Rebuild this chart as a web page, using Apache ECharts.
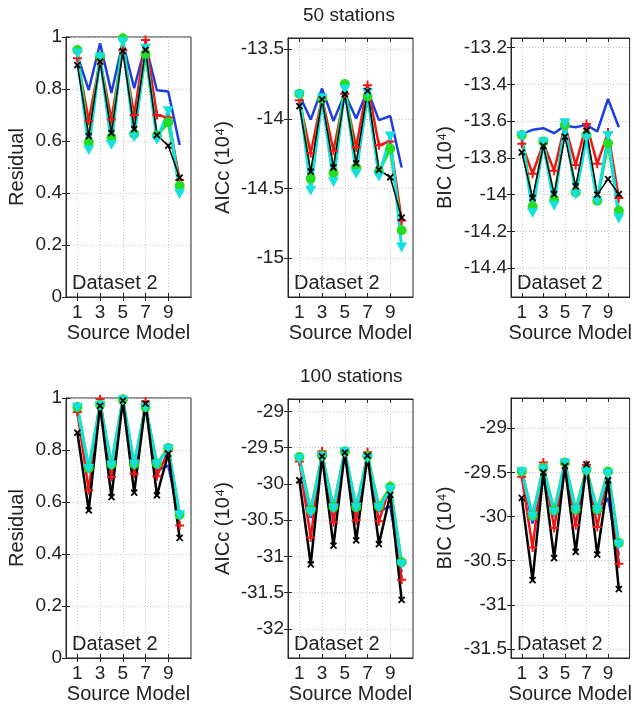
<!DOCTYPE html>
<html>
<head>
<meta charset="utf-8">
<script src="https://cdn.jsdelivr.net/npm/echarts@6/dist/echarts.min.js"></script>
<style>
  html, body { margin: 0; padding: 0; background: #fff; }
  #chart { width: 634px; height: 707px; }
</style>
</head>
<body>
<div id="chart"></div>
<script>
// source models on the x axis
const models = [1, 2, 3, 4, 5, 6, 7, 8, 9, 10];
const xTicks = [1, 3, 5, 7, 9];

// tick labels
const resTicks = [0, 0.2, 0.4, 0.6, 0.8, 1];
const aic50Ticks = [-15, -14.5, -14, -13.5];
const bic50Ticks = [-14.4, -14.2, -14, -13.8, -13.6, -13.4, -13.2];
const aic100Ticks = [-32, -31.5, -31, -30.5, -30, -29.5, -29];
const bic100Ticks = [-31.5, -31, -30.5, -30, -29.5, -29];

// 50 stations - residual
const res50Blue  = [0.93, 0.796, 0.976, 0.785, 0.98, 0.803, 0.97, 0.795, 0.79, 0.585];
const res50Red   = [0.918, 0.678, 0.91, 0.683, 0.95, 0.70, 0.988, 0.70, 0.69, 0.45];
const res50Black = [0.892, 0.619, 0.905, 0.63, 0.946, 0.646, 0.95, 0.623, 0.582, 0.459];
const res50Green = [0.95, 0.595, 0.924, 0.614, 0.995, 0.627, 0.935, 0.62, 0.672, 0.428];
const res50Cyan  = [0.937, 0.565, 0.92, 0.585, 0.98, 0.615, 0.955, 0.605, 0.715, 0.396];

// 50 stations - AICc (10^4)
const aic50Blue  = [-13.83, -14.006, -13.783, -14.016, -13.82, -13.998, -13.795, -14.01, -13.98, -14.35];
const aic50Red   = [-13.867, -14.247, -13.85, -14.23, -13.82, -14.204, -13.76, -14.19, -14.163, -14.73];
const aic50Black = [-13.91, -14.38, -13.86, -14.35, -13.824, -14.32, -13.8, -14.367, -14.42, -14.71];
const aic50Green = [-13.82, -14.43, -13.855, -14.39, -13.75, -14.35, -13.84, -14.38, -14.215, -14.80];
const aic50Cyan  = [-13.83, -14.516, -13.855, -14.456, -13.79, -14.396, -13.815, -14.415, -14.127, -14.924];

// 50 stations - BIC (10^4)
const bic50Blue  = [-13.669, -13.647, -13.638, -13.665, -13.624, -13.633, -13.62, -13.656, -13.479, -13.633];
const bic50Red   = [-13.723, -13.886, -13.72, -13.87, -13.62, -13.838, -13.615, -13.832, -13.662, -14.018];
const bic50Black = [-13.77, -14.018, -13.734, -13.997, -13.684, -13.955, -13.651, -14.0, -13.915, -13.997];
const bic50Green = [-13.675, -14.064, -13.711, -14.028, -13.62, -13.988, -13.675, -14.033, -13.72, -14.088];
const bic50Cyan  = [-13.68, -14.10, -13.715, -14.06, -13.611, -14.0, -13.693, -14.035, -13.68, -14.13];

// 100 stations - residual
const res100Blue  = [0.955, 0.715, 0.975, 0.73, 0.99, 0.73, 0.965, 0.72, 0.74, 0.53];
const res100Red   = [0.946, 0.645, 0.995, 0.696, 0.99, 0.709, 0.987, 0.699, 0.795, 0.51];
const res100Black = [0.867, 0.568, 0.97, 0.619, 0.99, 0.636, 0.978, 0.626, 0.786, 0.462];
const res100Green = [0.965, 0.731, 0.974, 0.744, 0.995, 0.745, 0.965, 0.747, 0.808, 0.551];
const res100Cyan  = [0.963, 0.728, 0.969, 0.741, 0.991, 0.744, 0.962, 0.744, 0.803, 0.549];

// 100 stations - AICc (10^4)
const aic100Blue  = [-29.66, -30.47, -29.63, -30.42, -29.57, -30.38, -29.65, -30.38, -30.31, -31.22];
const aic100Red   = [-29.69, -30.74, -29.55, -30.53, -29.57, -30.50, -29.565, -30.515, -30.03, -31.32];
const aic100Black = [-29.95, -31.11, -29.62, -30.85, -29.57, -30.78, -29.61, -30.83, -30.15, -31.6];
const aic100Green = [-29.63, -30.36, -29.61, -30.32, -29.55, -30.32, -29.62, -30.31, -30.04, -31.08];
const aic100Cyan  = [-29.66, -30.39, -29.63, -30.34, -29.565, -30.33, -29.65, -30.33, -30.08, -31.11];

// 100 stations - BIC (10^4)
const bic100Blue  = [-29.5, -30.08, -29.46, -30.0, -29.41, -29.95, -29.5, -29.98, -29.79, -30.44];
const bic100Red   = [-29.55, -30.35, -29.39, -30.13, -29.41, -30.10, -29.415, -30.12, -29.49, -30.535];
const bic100Black = [-29.79, -30.72, -29.5, -30.47, -29.43, -30.40, -29.41, -30.43, -29.59, -30.82];
const bic100Green = [-29.49, -29.99, -29.45, -29.93, -29.39, -29.92, -29.47, -29.92, -29.49, -30.30];
const bic100Cyan  = [-29.50, -30.0, -29.47, -29.95, -29.40, -29.93, -29.50, -29.93, -29.52, -30.32];

const FONT = '"Liberation Sans", Arial, sans-serif';
const AX = '#262626';

// line styles (blue, red +, green o, cyan v, black x)
const plusPath = 'path://M5,0L5,10M0,5L10,5';
const crossPath = 'path://M0,0L10,10M10,0L0,10';
const triPath = 'path://M0,0L10,0L5,9Z';
const styles = [
  { name: 'blue', color: '#1e3fe0', width: 2.5, symbol: 'none', size: 0, border: 0 },
  { name: 'red', color: '#f41414', width: 2.5, symbol: plusPath, size: 9, border: 2 },
  { name: 'green', color: '#22dd22', width: 3, symbol: 'circle', size: 10, border: 0 },
  { name: 'cyan', color: '#14e0e0', width: 3, symbol: triPath, size: 11, border: 0 },
  { name: 'black', color: '#000000', width: 1.5, symbol: crossPath, size: 6, border: 1.8 }
];

const panels = [
  { left: 66, top: 37, ylabel: 'Residual', gap: 39, min: 0, max: 1, ticks: resTicks,
    lines: [res50Blue, res50Red, res50Green, res50Cyan, res50Black] },
  { left: 288, top: 38, ylabel: 'AICc (10\u2074)', gap: 55, min: -15.28, max: -13.42, ticks: aic50Ticks,
    lines: [aic50Blue, aic50Red, aic50Green, aic50Cyan, aic50Black] },
  { left: 511, top: 38, ylabel: 'BIC (10\u2074)', gap: 56, min: -14.557, max: -13.147, ticks: bic50Ticks,
    lines: [bic50Blue, bic50Red, bic50Green, bic50Cyan, bic50Black] },
  { left: 66, top: 398, ylabel: 'Residual', gap: 39, min: 0, max: 1, ticks: resTicks,
    lines: [res100Blue, res100Red, res100Green, res100Cyan, res100Black] },
  { left: 288, top: 399, ylabel: 'AICc (10\u2074)', gap: 55, min: -32.4, max: -28.83, ticks: aic100Ticks,
    lines: [aic100Blue, aic100Red, aic100Green, aic100Cyan, aic100Black] },
  { left: 511, top: 398, ylabel: 'BIC (10\u2074)', gap: 56, min: -31.6, max: -28.66, ticks: bic100Ticks,
    lines: [bic100Blue, bic100Red, bic100Green, bic100Cyan, bic100Black] }
];

const grids = [], xAxes = [], yAxes = [], series = [], graphics = [];
const W = 125;

panels.forEach(function (p, i) {
  const bottomRow = i >= 3;
  const h = bottomRow ? 658 - p.top : 297 - p.top;
  grids.push({ left: p.left, top: p.top, width: W, height: h,
    show: true, borderColor: AX, borderWidth: 1, backgroundColor: '#fff' });

  const splitStyle = { show: true, lineStyle: { color: '#c8c8c8', type: [1, 2], width: 1 } };
  // bottom x axis
  xAxes.push({
    type: 'value', gridIndex: i, min: 0, max: 11,
    name: 'Source Model', nameLocation: 'middle', nameGap: 26,
    nameTextStyle: { fontFamily: FONT, fontSize: 20, color: '#222' },
    axisLine: { show: true, lineStyle: { color: AX } },
    axisTick: { show: true, inside: true, length: 4, customValues: xTicks, lineStyle: { color: AX } },
    axisLabel: { customValues: xTicks, fontFamily: FONT, fontSize: 19, color: '#222', margin: 6 },
    splitLine: splitStyle
  });
  // mirrored top axis (ticks only)
  xAxes.push({
    type: 'value', gridIndex: i, min: 0, max: 11, position: 'top',
    axisLine: { show: true, lineStyle: { color: AX } },
    axisTick: { show: true, inside: true, length: 4, customValues: xTicks, lineStyle: { color: AX } },
    axisLabel: { show: false, customValues: xTicks },
    splitLine: { show: false }
  });
  yAxes.push({
    type: 'value', gridIndex: i, min: p.min, max: p.max,
    name: p.ylabel, nameLocation: 'middle', nameGap: p.gap,
    nameTextStyle: { fontFamily: FONT, fontSize: 20, color: '#222' },
    axisLine: { show: true, lineStyle: { color: AX } },
    axisTick: { show: true, inside: true, length: 4, customValues: p.ticks, lineStyle: { color: AX } },
    axisLabel: { customValues: p.ticks, fontFamily: FONT, fontSize: 19, color: '#222', margin: 4 },
    splitLine: splitStyle
  });
  yAxes.push({
    type: 'value', gridIndex: i, min: p.min, max: p.max, position: 'right',
    axisLine: { show: true, lineStyle: { color: AX } },
    axisTick: { show: true, inside: true, length: 4, customValues: p.ticks, lineStyle: { color: AX } },
    axisLabel: { show: false, customValues: p.ticks },
    splitLine: { show: false }
  });

  p.lines.forEach(function (vals, k) {
    const s = styles[k];
    series.push({
      type: 'line', name: s.name,
      xAxisIndex: 2 * i, yAxisIndex: 2 * i,
      data: models.map(function (m, j) { return [m, vals[j]]; }),
      symbol: s.symbol, symbolSize: s.size, showSymbol: s.symbol !== 'none',
      symbolKeepAspect: true,
      lineStyle: { color: s.color, width: (k === 4 && bottomRow) ? 2.5 : s.width },
      itemStyle: { color: s.color, borderColor: s.color, borderWidth: s.border },
      emphasis: { disabled: true },
      animation: false
    });
  });

  graphics.push({
    type: 'text', left: p.left + 6, top: (bottomRow ? 658 : 297) - 24,
    style: { text: 'Dataset 2', font: '20px ' + FONT, fill: '#222' }
  });
});

graphics.push({ type: 'text', left: 303, top: 6,
  style: { text: '50 stations', font: '19px ' + FONT, fill: '#222' } });
graphics.push({ type: 'text', left: 300, top: 367,
  style: { text: '100 stations', font: '19px ' + FONT, fill: '#222' } });

const chart = echarts.init(document.getElementById('chart'), null, { renderer: 'canvas' });
chart.setOption({
  animation: false,
  backgroundColor: '#fff',
  grid: grids,
  xAxis: xAxes,
  yAxis: yAxes,
  series: series,
  graphic: graphics
});
window.onresize = chart.resize;
</script>
</body>
</html>
